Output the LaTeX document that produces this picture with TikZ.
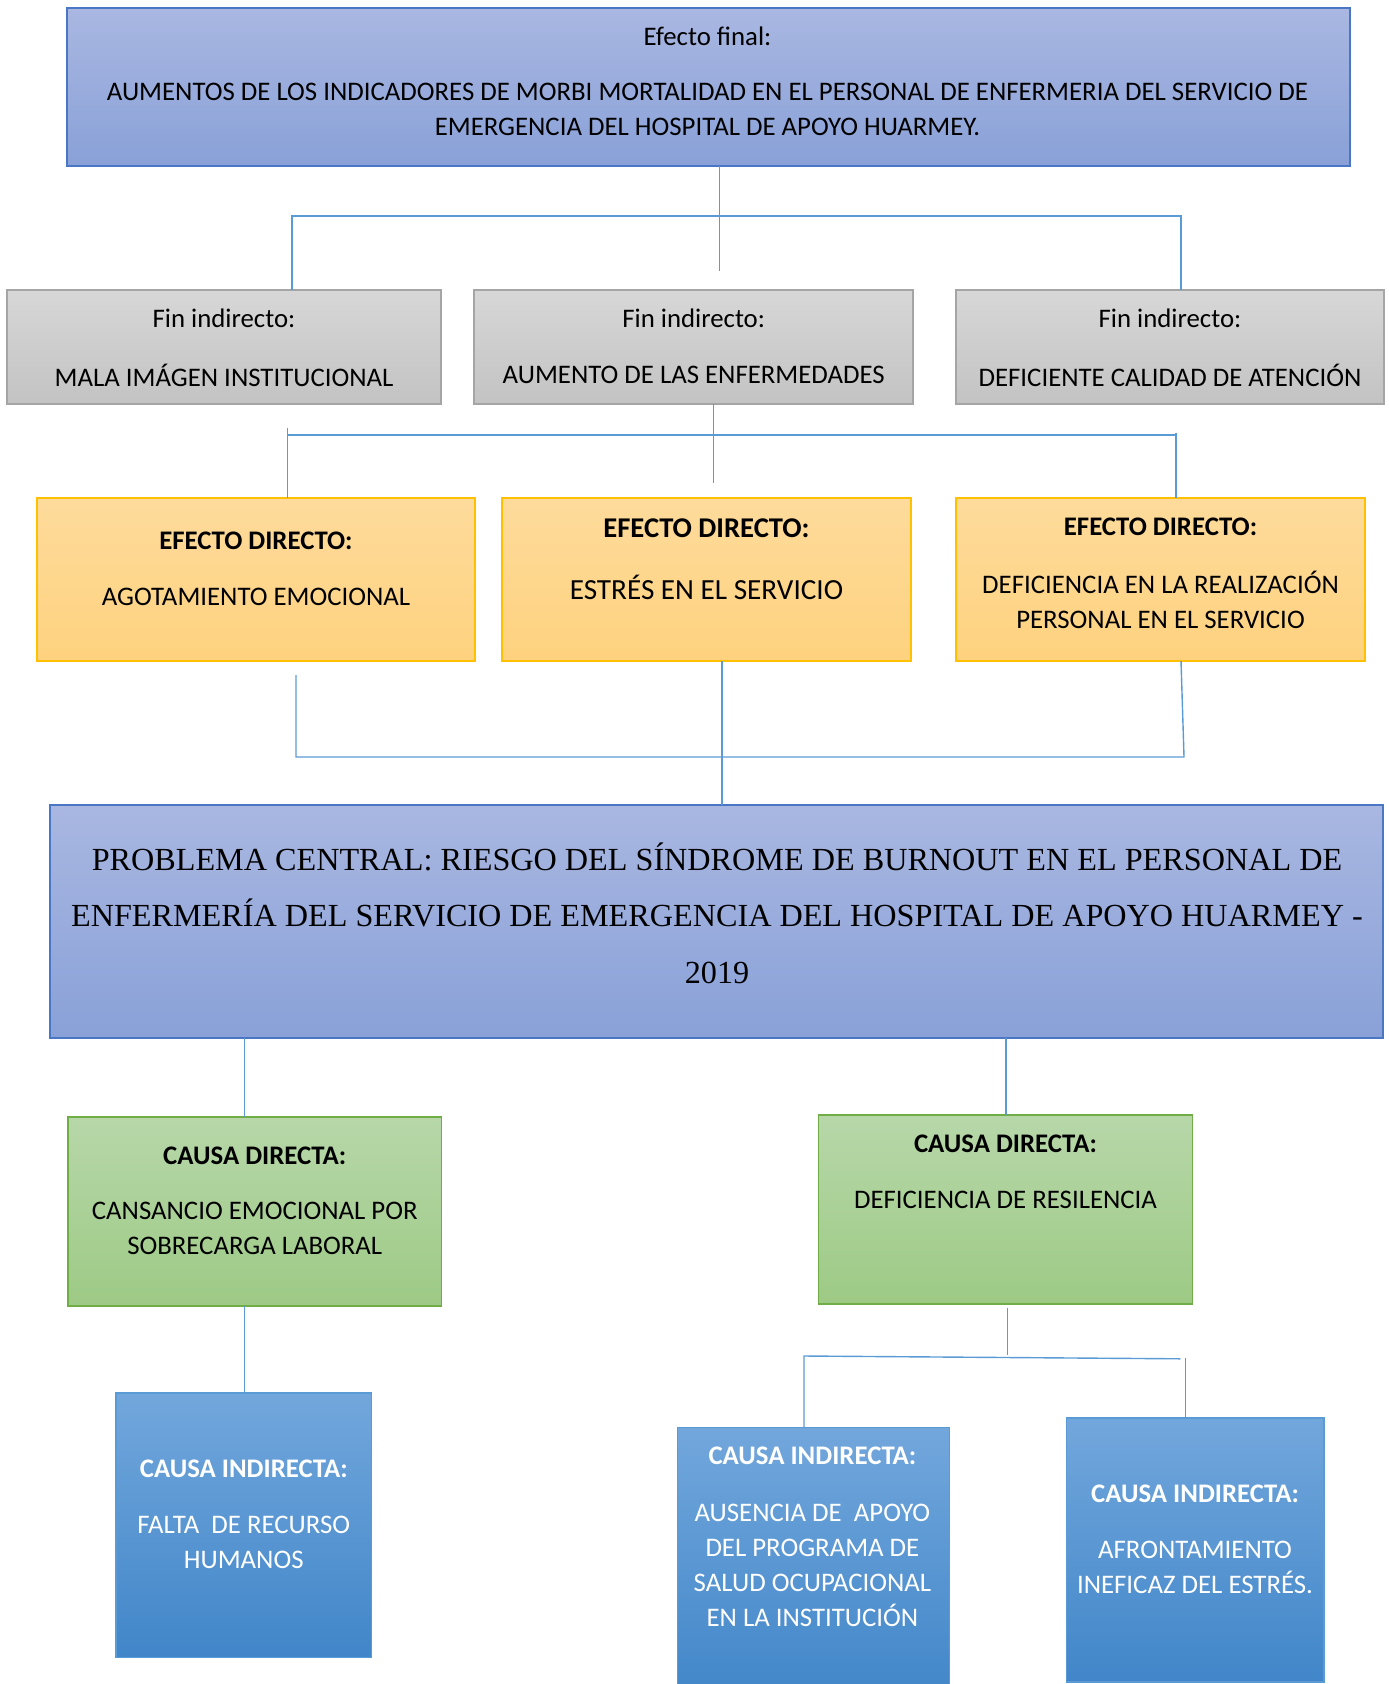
\documentclass[tikz,border=0pt]{standalone}
\usepackage{fontspec}
\setmainfont{Carlito}
\newfontfamily\tnr{Liberation Serif}
\definecolor{conncol}{HTML}{5B9BD5}
\definecolor{pbord}{HTML}{4A76C6}
\definecolor{ptop}{HTML}{A9B7E1}
\definecolor{pbot}{HTML}{89A1D8}
\definecolor{gbord}{HTML}{A5A5A5}
\definecolor{gtop}{HTML}{D7D7D7}
\definecolor{gbot}{HTML}{C3C3C3}
\definecolor{ybord}{HTML}{FFC000}
\definecolor{ytop}{HTML}{FEDB9C}
\definecolor{ybot}{HTML}{FED27E}
\definecolor{vbord}{HTML}{70AD47}
\definecolor{vtop}{HTML}{B7D7A9}
\definecolor{vbot}{HTML}{9DCA85}
\definecolor{bbord}{HTML}{5B9BD5}
\definecolor{btop}{HTML}{72A7DC}
\definecolor{bbot}{HTML}{4186C9}
\tikzset{
  boxbase/.style={rectangle, inner sep=0pt, outer sep=0pt, line width=0.6pt},
  pbox/.style={boxbase, draw=pbord, top color=ptop, bottom color=pbot},
  gbox/.style={boxbase, draw=gbord, top color=gtop, bottom color=gbot},
  ybox/.style={boxbase, draw=ybord, top color=ytop, bottom color=ybot},
  vbox/.style={boxbase, draw=vbord, top color=vtop, bottom color=vbot},
  bbox/.style={boxbase, draw=bbord, top color=btop, bottom color=bbot},
  txt/.style={inner sep=0pt, align=center, font=\fontsize{13.4}{17.5}\selectfont},
  btxt/.style={txt, font=\fontsize{13.4}{17.5}\selectfont\bfseries},
  wtxt/.style={txt, text=white},
  conn/.style={draw=conncol, line width=0.7pt},
}
\begin{document}
\begin{tikzpicture}[x=0.5pt,y=-0.5pt]
\useasboundingbox (0,0) rectangle (1388,1684);
\clip (0,0) rectangle (1388,1684);
% boxes
\node[pbox, minimum width=641.5pt, minimum height=79pt] (top) at (708.5,87) {};
\node[gbox, minimum width=217pt, minimum height=57pt] (g1) at (224,347) {};
\node[gbox, minimum width=219.5pt, minimum height=57pt] (g2) at (693.5,347) {};
\node[gbox, minimum width=214pt, minimum height=57pt] (g3) at (1170,347) {};
\node[ybox, minimum width=219pt, minimum height=81.5pt] (y1) at (256,579.5) {};
\node[ybox, minimum width=204.5pt, minimum height=81.5pt] (y2) at (706.5,579.5) {};
\node[ybox, minimum width=204.5pt, minimum height=81.5pt] (y3) at (1160.5,579.5) {};
\node[pbox, minimum width=666.5pt, minimum height=116.5pt] (cen) at (716.5,921.5) {};
\node[vbox, minimum width=186.75pt, minimum height=94.5pt] (gr1) at (254.75,1211.5) {};
\node[vbox, minimum width=187pt, minimum height=94.5pt] (gr2) at (1005.5,1209.5) {};
\node[bbox, minimum width=127.75pt, minimum height=132.25pt] (bl1) at (243.75,1525.25) {};
\node[bbox, minimum width=136pt, minimum height=136.25pt] (bl2) at (813.5,1563.75) {};
\node[bbox, minimum width=128.75pt, minimum height=132pt] (bl3) at (1195.25,1550) {};
% texts
\node[txt] (ttop1) at (707.5,36) {Efecto final:};
\node[txt] (ttop2) at (707.5,109.5) {AUMENTOS DE LOS INDICADORES DE MORBI MORTALIDAD EN EL PERSONAL DE ENFERMERIA DEL SERVICIO DE\\EMERGENCIA DEL HOSPITAL DE APOYO HUARMEY.};
\node[txt] (tg1a) at (224,318) {Fin indirecto:};
\node[txt] (tg1b) at (224,375) {MALA IMÁGEN INSTITUCIONAL};
\node[txt] (tg2a) at (693.7,318) {Fin indirecto:};
\node[txt] (tg2b) at (693.7,375) {AUMENTO DE LAS ENFERMEDADES};
\node[txt] (tg3a) at (1170,318) {Fin indirecto:};
\node[txt] (tg3b) at (1170,375) {DEFICIENTE CALIDAD DE ATENCIÓN};
\node[btxt] (ty1a) at (256,540.7) {EFECTO DIRECTO:};
\node[txt] (ty1b) at (256,596.7) {AGOTAMIENTO EMOCIONAL};
\node[btxt, font=\fontsize{14.3}{17.5}\selectfont\bfseries] (ty2a) at (706.5,528) {EFECTO DIRECTO:};
\node[txt, font=\fontsize{14.6}{17.5}\selectfont] (ty2b) at (706.5,587) {ESTRÉS EN EL SERVICIO};
\node[btxt] (ty3a) at (1160.5,527) {EFECTO DIRECTO:};
\node[txt] (ty3b) at (1160.5,600) {DEFICIENCIA EN LA REALIZACIÓN\\PERSONAL EN EL SERVICIO};
\node[txt, font=\fontsize{16.1}{28.25}\selectfont\tnr] (tcen) at (717,913) {PROBLEMA CENTRAL: RIESGO DEL SÍNDROME DE BURNOUT EN EL PERSONAL DE\\ENFERMERÍA DEL SERVICIO DE EMERGENCIA DEL HOSPITAL DE APOYO HUARMEY -\\2019};
\node[btxt] (tgr1a) at (254.75,1155.5) {CAUSA DIRECTA:};
\node[txt] (tgr1b) at (254.75,1228.5) {CANSANCIO EMOCIONAL POR\\SOBRECARGA LABORAL};
\node[btxt] (tgr2a) at (1005.5,1144) {CAUSA DIRECTA:};
\node[txt] (tgr2b) at (1005.5,1200) {DEFICIENCIA DE RESILENCIA};
\node[btxt, text=white] (tb1a) at (243.75,1469) {CAUSA INDIRECTA:};
\node[wtxt] (tb1b) at (243.75,1542.5) {FALTA\ \ DE RECURSO\\HUMANOS};
\node[btxt, text=white] (tb2a) at (812.4,1456) {CAUSA INDIRECTA:};
\node[wtxt] (tb2b) at (812.4,1565.3) {AUSENCIA DE\ \ APOYO\\DEL PROGRAMA DE\\SALUD OCUPACIONAL\\EN LA INSTITUCIÓN};
\node[btxt, text=white] (tb3a) at (1195,1493.5) {CAUSA INDIRECTA:};
\node[wtxt] (tb3b) at (1195,1567.4) {AFRONTAMIENTO\\INEFICAZ DEL ESTRÉS.};
% connector points
\coordinate (j1) at (719.5,271);
\coordinate (h1L) at (292,216);
\coordinate (h1R) at (1181,216);
\coordinate (j2) at (713.7,483);
\coordinate (e2L) at (287.5,428);
\coordinate (h2L) at (287.5,435);
\coordinate (h2R) at (1176,435);
\coordinate (e2R) at (1176,432.7);
\coordinate (e3L) at (296,675);
\coordinate (h3L) at (296,757);
\coordinate (h3R) at (1184,757);
\coordinate (s3R) at (1181,661);
\coordinate (m3) at (722,700);
\coordinate (m4L) at (244.6,1100);
\coordinate (m4R) at (1006,1100);
\coordinate (e5) at (1007.2,1307.5);
\coordinate (m5) at (1007.2,1354.6);
\coordinate (h5L) at (804,1356);
\coordinate (h5R) at (1180.4,1358.8);
\coordinate (e5R) at (1185.5,1357.6);
% connectors
\draw[conn] (j1 |- top.south) -- (j1);
\draw[conn] (h1L |- g1.north) -- (h1L) -- (h1R) -- (h1R |- g3.north);
\draw[conn] (j2 |- g2.south) -- (j2);
\draw[conn] (e2L) -- (e2L |- y1.north);
\draw[conn] (h2L) -- (h2R);
\draw[conn] (e2R) -- (e2R |- y3.north);
\draw[conn] (e3L) -- (h3L) -- (h3R) -- (s3R);
\draw[conn] (m3 |- y2.south) -- (m3 |- cen.north);
\draw[conn] (m4L |- cen.south) -- (m4L |- gr1.north);
\draw[conn] (m4L |- gr1.south) -- (m4L |- bl1.north);
\draw[conn] (m4R |- cen.south) -- (m4R |- gr2.north);
\draw[conn] (e5) -- (m5);
\draw[conn] (h5L |- bl2.north) -- (h5L) -- (h5R);
\draw[conn] (e5R) -- (e5R |- bl3.north);
\end{tikzpicture}
\end{document}
